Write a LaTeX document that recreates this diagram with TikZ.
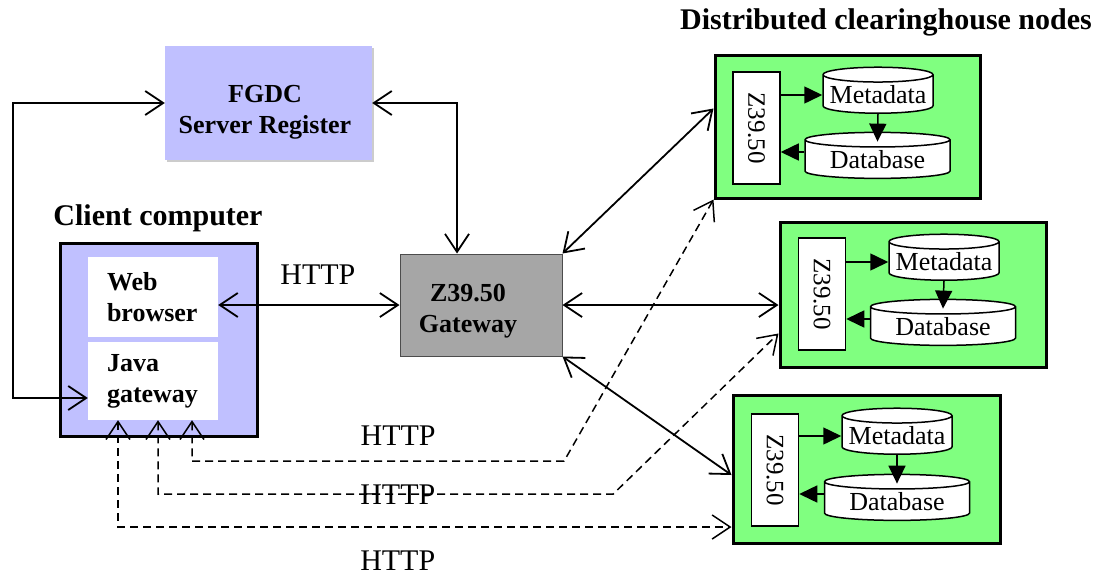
\documentclass[tikz,border=0pt]{standalone}
\usepackage{fontspec}
\setmainfont{Liberation Serif}
\usetikzlibrary{arrows.meta,shapes.geometric,shadows}

\definecolor{lavande}{RGB}{192,192,255}
\definecolor{vert}{RGB}{128,255,128}
\definecolor{gris}{RGB}{166,166,166}

\begin{document}
\begin{tikzpicture}[x=1pt, y=-1pt,
    >={Straight Barb[length=18pt,width=24pt]},
    fleche/.style = {line width=1.8pt},
    pointille/.style = {line width=1.5pt, dash pattern=on 8pt off 5pt},
    http/.style = {font=\fontsize{30}{32}\selectfont},
    titre/.style = {font=\fontsize{30}{32}\selectfont\bfseries},
    boite/.style = {font=\fontsize{26}{31}\selectfont\bfseries, align=center},
    noeud/.style = {draw, fill=vert, line width=3pt},
    zbox/.style = {draw, fill=white, line width=1.5pt, minimum width=47pt, minimum height=112pt, font=\fontsize{25}{30}\selectfont},
    base/.style = {draw, fill=white, line width=1.5pt, cylinder, shape border rotate=90, aspect=0.15, inner sep=1pt, minimum height=46pt, font=\fontsize{26}{30}\selectfont},
    tri/.style = {line width=1.5pt, -{Triangle[length=18pt,width=17pt]}}]
    \useasboundingbox (0,0) rectangle (1109,579);

    % Boîtes
    \node[titre] (titre) at (886,22) {Distributed clearinghouse nodes};

    \node[fill=lavande, drop shadow={shadow xshift=2pt, shadow yshift=-2pt, fill=black!40}, minimum width=207pt, minimum height=114pt] (fgdc) at (268.5,103) {};
    \node[boite] (fgdctxt) at (265,112) {FGDC\\Server Register};

    \node[titre] (cltitre) at (158,218) {Client computer};
    \node[draw, line width=3pt, fill=lavande, minimum width=197pt, minimum height=193pt] (client) at (158.5,339.5) {};
    \node[boite, fill=white, text width=92pt, align=left, minimum width=130pt, minimum height=80pt] (web) at (153,297) {Web\\browser};
    \node[boite, fill=white, text width=92pt, align=left, minimum width=130pt, minimum height=78pt] (java) at (153,381) {Java\\gateway};

    \node[draw=black!70, line width=1pt, fill=gris, minimum width=162pt, minimum height=102pt] (gw) at (481,305) {};
    \node[boite] (gwtxt) at (468,311) {Z39.50\\Gateway};

    \node[noeud, minimum width=265pt, minimum height=143pt] (n1) at (847.5,126.5) {};
    \node[zbox] (z1) at (756.5,128) {\rotatebox{-90}{Z39.50}};
    \node[base, minimum width=110pt] (meta1) at (878,95) {Metadata};
    \node[base, minimum width=145pt] (db1) at (877.5,160) {Database};

    \node[noeud, minimum width=266pt, minimum height=145pt] (n2) at (913,294.5) {};
    \node[zbox] (z2) at (822,294) {\rotatebox{-90}{Z39.50}};
    \node[base, minimum width=110pt] (meta2) at (944,262) {Metadata};
    \node[base, minimum width=145pt] (db2) at (943,327) {Database};

    \node[noeud, minimum width=267pt, minimum height=148pt] (n3) at (866.5,469) {};
    \node[zbox] (z3) at (775,470) {\rotatebox{-90}{Z39.50}};
    \node[base, minimum width=110pt] (meta3) at (897,436) {Metadata};
    \node[base, minimum width=145pt] (db3) at (897,502) {Database};

    % Flèches
    \draw[fleche, <->] (fgdc.west) -- ++(-152,0) |- ([yshift=-17pt]java.west);
    \draw[fleche, <->] (fgdc.east) -| ([xshift=-24pt]gw.north);
    \draw[fleche, <->] (web.east |- gw.west) -- node[http, pos=0.55, above=16pt] {HTTP} (gw.west);
    \draw[fleche, <->] (gw.north east) -- ([yshift=18pt]n1.west);
    \draw[fleche, <->] (gw.east) -- (gw.east -| n2.west);
    \draw[fleche, <->] (gw.south east) -- ([yshift=-6pt]n3.west);

    \draw[pointille, <->] ([xshift=39pt]java.south) -- ++(0,41) -- node[http, pos=0.554, above=12pt] {HTTP} ++(372,0) -- (n1.south west);
    \draw[pointille, <->] ([xshift=5pt]java.south) -- ++(0,74) -- node[http, pos=0.527] {HTTP} ++(455,0) -- ([yshift=-39pt]n2.west);
    \draw[pointille, <->] ([xshift=-35pt]java.south) |- node[http, pos=0.728, below=20pt] {HTTP} ([yshift=-58pt]n3.west);

    \draw[tri] (z1.east |- meta1.west) -- (meta1.west);
    \draw[tri] (meta1.south) -- ([yshift=-10pt]db1.north);
    \draw[tri] ([yshift=8pt]db1.west) -- ([yshift=8pt]db1.west -| z1.east);
    \draw[tri] (z2.east |- meta2.west) -- (meta2.west);
    \draw[tri] (meta2.south) -- ([yshift=-10pt]db2.north);
    \draw[tri] ([yshift=8pt]db2.west) -- ([yshift=8pt]db2.west -| z2.east);
    \draw[tri] (z3.east |- meta3.west) -- (meta3.west);
    \draw[tri] (meta3.south) -- ([yshift=-10pt]db3.north);
    \draw[tri] ([yshift=8pt]db3.west) -- ([yshift=8pt]db3.west -| z3.east);
\end{tikzpicture}
\end{document}
